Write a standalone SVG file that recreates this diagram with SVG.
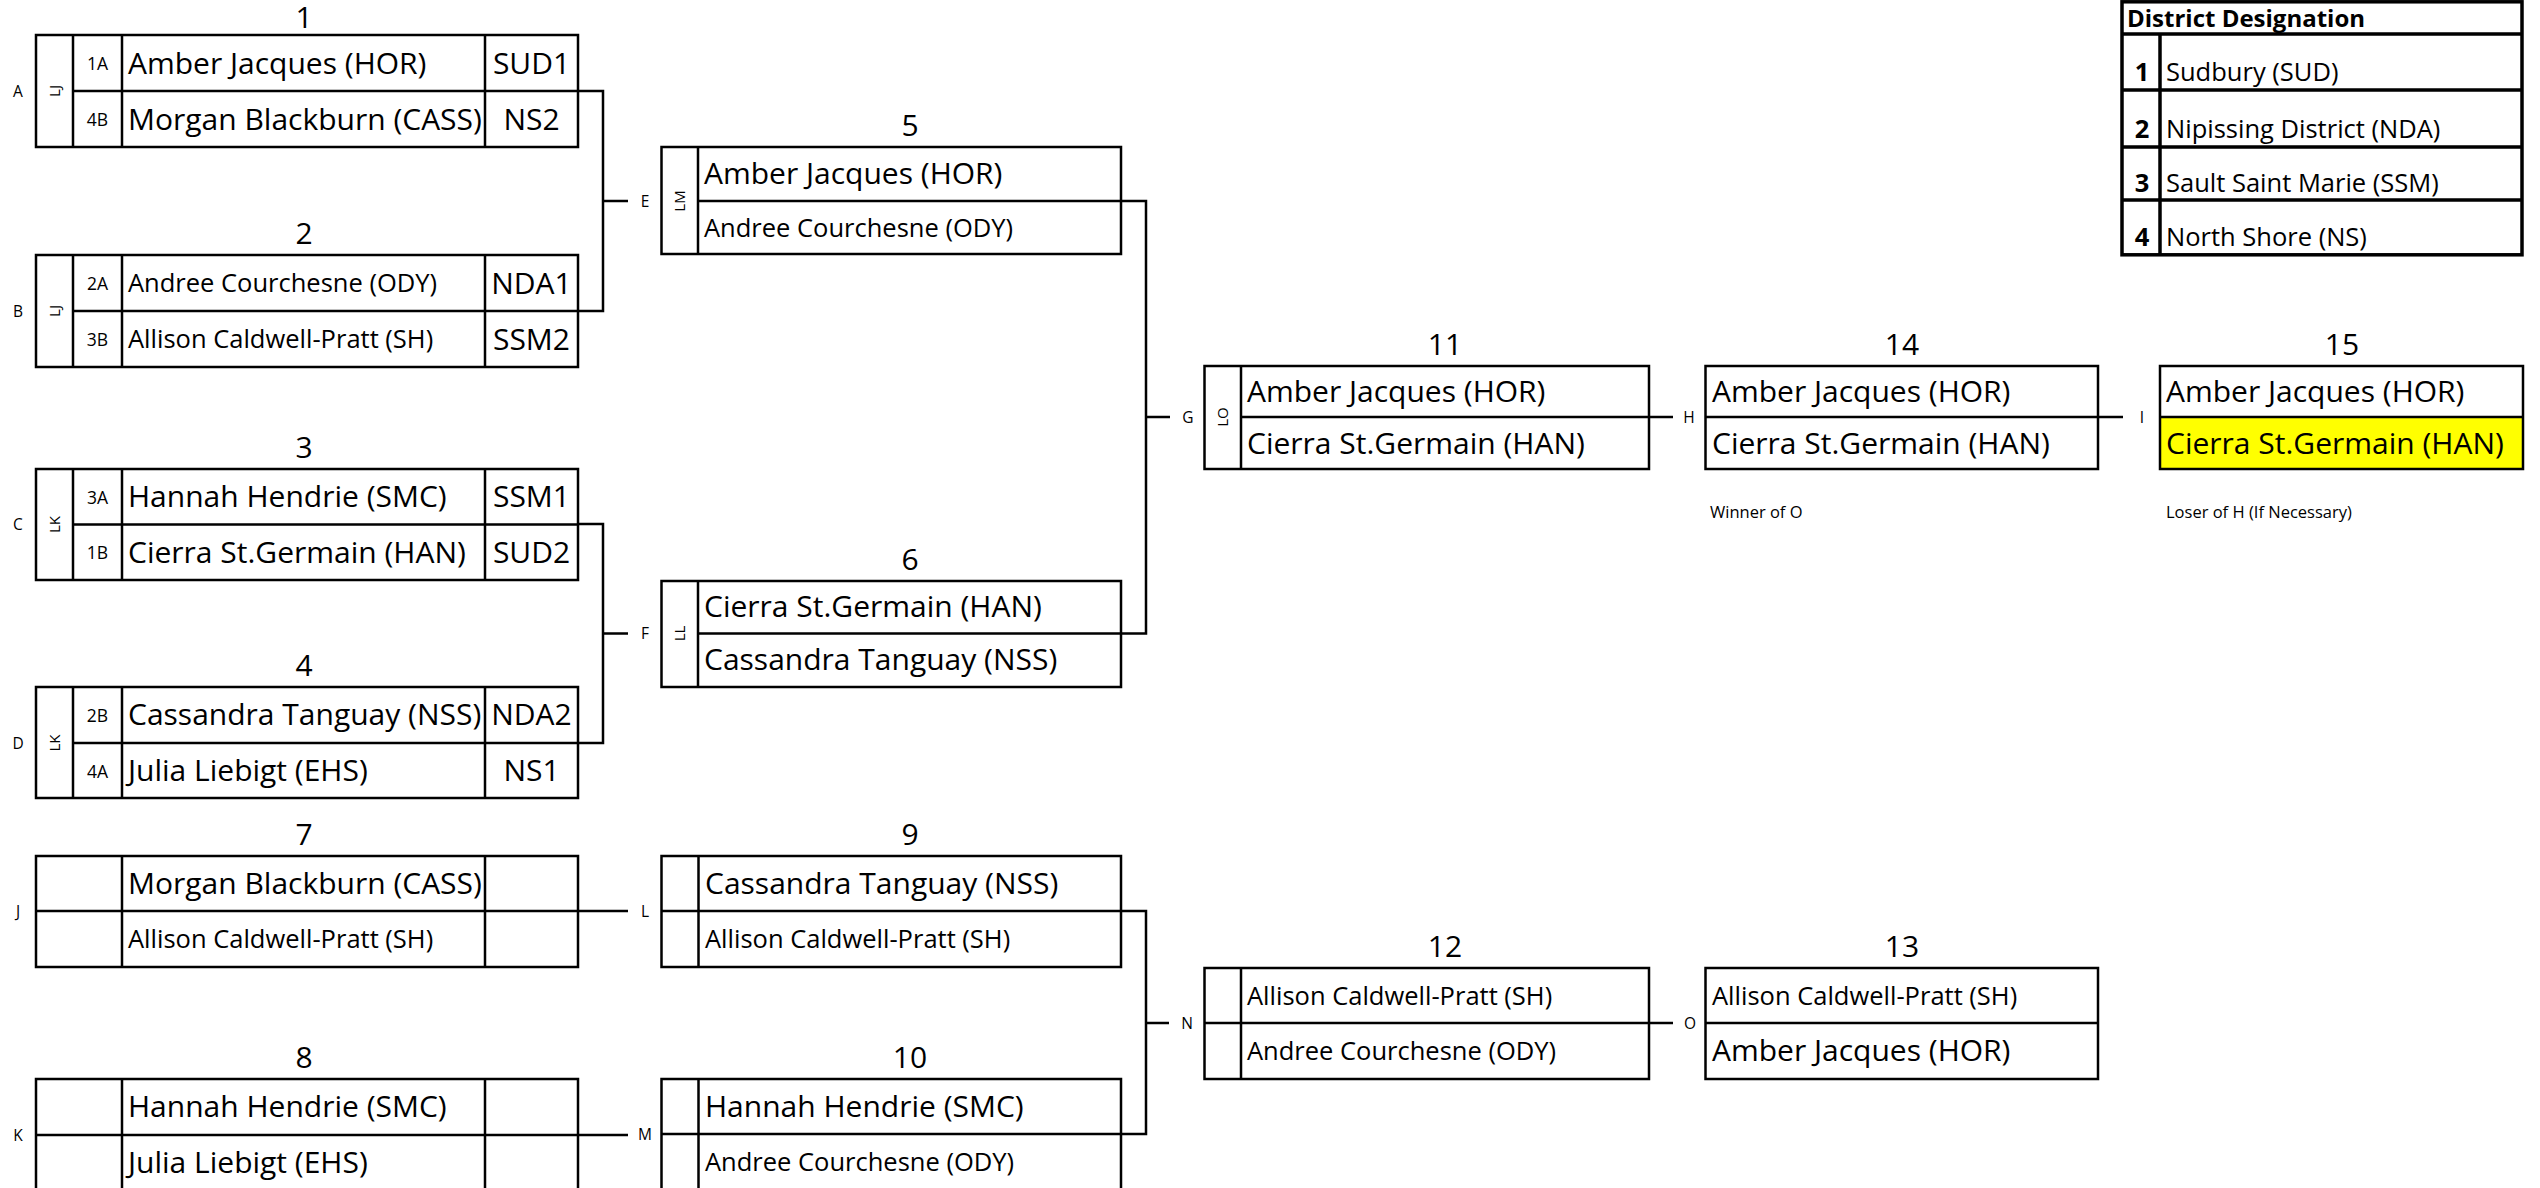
<svg xmlns="http://www.w3.org/2000/svg" width="2540" height="1188" viewBox="0 0 2540 1188">
<style>
text{font-family:"Open Sans","Liberation Sans",sans-serif;fill:#000}
.bx{fill:none;stroke:#000;stroke-width:2.5}
.ln{stroke:#000;stroke-width:2.5;fill:none}
.cn{stroke:#000;stroke-width:2.5;fill:none}
.L{font-size:30px}
.S{font-size:25.5px}
.dc{font-size:30px;text-anchor:middle}
.num{font-size:30px;text-anchor:middle}
.seed{font-size:17.5px;text-anchor:middle}
.tag{font-size:15.5px;text-anchor:middle}
.rot{font-size:15px;text-anchor:middle}
.note{font-size:16.5px}
.lg{font-size:25.5px}
.lgb{font-size:24px;font-weight:bold}
.lgn{font-size:25.5px;font-weight:bold;text-anchor:middle}
.lgl{stroke:#000;stroke-width:3.5;fill:none}
</style>
<rect x="0" y="0" width="2540" height="1188" fill="#fff"/>

<g id="connectors">
<path class="cn" d="M578,91 H603 V311 H578 M603,201 H628"/>
<path class="cn" d="M578,524 H603 V743 H578 M603,633.5 H628"/>
<path class="cn" d="M1121,201 H1146 V633.5 H1121 M1146,417 H1170"/>
<path class="cn" d="M1649,417 H1673"/>
<path class="cn" d="M2098,417 H2123"/>
<path class="cn" d="M578,911 H628"/>
<path class="cn" d="M578,1135 H628"/>
<path class="cn" d="M1121,911 H1146 V1134 H1121 M1146,1023 H1169"/>
<path class="cn" d="M1649,1023 H1673"/>
</g>

<g id="match1">
<text class="num" x="304" y="28">1</text>
<rect class="bx" x="36" y="35" width="542" height="112"/>
<path class="ln" d="M73,35 V147 M122,35 V147 M485,35 V147 M73,91 H578"/>
<text class="tag" x="18" y="96.5">A</text>
<text class="rot" x="54.5" y="96" transform="rotate(-90 54.5 91)">LJ</text>
<text class="seed" x="97.5" y="70">1A</text>
<text class="seed" x="97.5" y="126">4B</text>
<text class="L" x="128" y="73.5">Amber Jacques (HOR)</text>
<text class="L" x="128" y="129.5">Morgan Blackburn (CASS)</text>
<text class="dc" x="531.5" y="73.5">SUD1</text>
<text class="dc" x="531.5" y="129.5">NS2</text>
</g>

<g id="match2">
<text class="num" x="304" y="244">2</text>
<rect class="bx" x="36" y="255" width="542" height="112"/>
<path class="ln" d="M73,255 V367 M122,255 V367 M485,255 V367 M73,311 H578"/>
<text class="tag" x="18" y="316.5">B</text>
<text class="rot" x="54.5" y="316" transform="rotate(-90 54.5 311)">LJ</text>
<text class="seed" x="97.5" y="290">2A</text>
<text class="seed" x="97.5" y="346">3B</text>
<text class="S" x="128" y="292">Andree Courchesne (ODY)</text>
<text class="S" x="128" y="348">Allison Caldwell-Pratt (SH)</text>
<text class="dc" x="531.5" y="293.5">NDA1</text>
<text class="dc" x="531.5" y="349.5">SSM2</text>
</g>

<g id="match3">
<text class="num" x="304" y="458">3</text>
<rect class="bx" x="36" y="469" width="542" height="111"/>
<path class="ln" d="M73,469 V580 M122,469 V580 M485,469 V580 M73,524.5 H578"/>
<text class="tag" x="18" y="530">C</text>
<text class="rot" x="54.5" y="529.5" transform="rotate(-90 54.5 524.5)">LK</text>
<text class="seed" x="97.5" y="504">3A</text>
<text class="seed" x="97.5" y="559">1B</text>
<text class="L" x="128" y="507">Hannah Hendrie (SMC)</text>
<text class="L" x="128" y="562.5">Cierra St.Germain (HAN)</text>
<text class="dc" x="531.5" y="507">SSM1</text>
<text class="dc" x="531.5" y="562.5">SUD2</text>
</g>

<g id="match4">
<text class="num" x="304" y="676">4</text>
<rect class="bx" x="36" y="687" width="542" height="111"/>
<path class="ln" d="M73,687 V798 M122,687 V798 M485,687 V798 M73,743 H578"/>
<text class="tag" x="18" y="748.5">D</text>
<text class="rot" x="54.5" y="748" transform="rotate(-90 54.5 743)">LK</text>
<text class="seed" x="97.5" y="722">2B</text>
<text class="seed" x="97.5" y="777.5">4A</text>
<text class="L" x="128" y="725">Cassandra Tanguay (NSS)</text>
<text class="L" x="128" y="780.5">Julia Liebigt (EHS)</text>
<text class="dc" x="531.5" y="725">NDA2</text>
<text class="dc" x="531.5" y="780.5">NS1</text>
</g>

<g id="match5">
<text class="num" x="910" y="136">5</text>
<rect class="bx" x="661.5" y="147" width="459.5" height="107"/>
<path class="ln" d="M698,147 V254 M698,201 H1121"/>
<text class="tag" x="645" y="206.5">E</text>
<text class="rot" x="680" y="206" transform="rotate(-90 680 201)">LM</text>
<text class="L" x="704" y="184">Amber Jacques (HOR)</text>
<text class="S" x="704" y="236.5">Andree Courchesne (ODY)</text>
</g>

<g id="match6">
<text class="num" x="910" y="570">6</text>
<rect class="bx" x="661.5" y="581" width="459.5" height="106"/>
<path class="ln" d="M698,581 V687 M698,633.5 H1121"/>
<text class="tag" x="645" y="639">F</text>
<text class="rot" x="680" y="638.5" transform="rotate(-90 680 633.5)">LL</text>
<text class="L" x="704" y="617">Cierra St.Germain (HAN)</text>
<text class="L" x="704" y="670">Cassandra Tanguay (NSS)</text>
</g>

<g id="match7">
<text class="num" x="304" y="845">7</text>
<rect class="bx" x="36" y="856" width="542" height="111"/>
<path class="ln" d="M122,856 V967 M485,856 V967 M36,911 H578"/>
<text class="tag" x="18" y="916.5">J</text>
<text class="L" x="128" y="893.5">Morgan Blackburn (CASS)</text>
<text class="S" x="128" y="948">Allison Caldwell-Pratt (SH)</text>
</g>

<g id="match8">
<text class="num" x="304" y="1068">8</text>
<rect class="bx" x="36" y="1079" width="542" height="115"/>
<path class="ln" d="M122,1079 V1194 M485,1079 V1194 M36,1135 H578"/>
<text class="tag" x="18" y="1140.5">K</text>
<text class="L" x="128" y="1117">Hannah Hendrie (SMC)</text>
<text class="L" x="128" y="1173">Julia Liebigt (EHS)</text>
</g>

<g id="match9">
<text class="num" x="910" y="845">9</text>
<rect class="bx" x="661.5" y="856" width="459.5" height="111"/>
<path class="ln" d="M698.5,856 V967 M661.5,911 H1121"/>
<text class="tag" x="645" y="916.5">L</text>
<text class="L" x="705" y="893.5">Cassandra Tanguay (NSS)</text>
<text class="S" x="705" y="948">Allison Caldwell-Pratt (SH)</text>
</g>

<g id="match10">
<text class="num" x="910" y="1068">10</text>
<rect class="bx" x="661.5" y="1079" width="459.5" height="115"/>
<path class="ln" d="M698.5,1079 V1194 M661.5,1134 H1121"/>
<text class="tag" x="645" y="1140">M</text>
<text class="L" x="705" y="1116.5">Hannah Hendrie (SMC)</text>
<text class="S" x="705" y="1171">Andree Courchesne (ODY)</text>
</g>

<g id="match11">
<text class="num" x="1445" y="355">11</text>
<rect class="bx" x="1204.5" y="366" width="444.5" height="103"/>
<path class="ln" d="M1241,366 V469 M1241,417 H1649"/>
<text class="tag" x="1188" y="422.5">G</text>
<text class="rot" x="1223" y="422" transform="rotate(-90 1223 417)">LO</text>
<text class="L" x="1247" y="402">Amber Jacques (HOR)</text>
<text class="L" x="1247" y="453.5">Cierra St.Germain (HAN)</text>
</g>

<g id="match12">
<text class="num" x="1445" y="957">12</text>
<rect class="bx" x="1204.5" y="968" width="444.5" height="111"/>
<path class="ln" d="M1241,968 V1079 M1204.5,1023 H1649"/>
<text class="tag" x="1187" y="1028.5">N</text>
<text class="S" x="1247" y="1004.5">Allison Caldwell-Pratt (SH)</text>
<text class="S" x="1247" y="1060">Andree Courchesne (ODY)</text>
</g>

<g id="match13">
<text class="num" x="1902" y="957">13</text>
<rect class="bx" x="1705.5" y="968" width="392.5" height="111"/>
<path class="ln" d="M1705.5,1023 H2098"/>
<text class="tag" x="1690" y="1028.5">O</text>
<text class="S" x="1712" y="1004.5">Allison Caldwell-Pratt (SH)</text>
<text class="L" x="1712" y="1061">Amber Jacques (HOR)</text>
</g>

<g id="match14">
<text class="num" x="1902" y="355">14</text>
<rect class="bx" x="1705.5" y="366" width="392.5" height="103"/>
<path class="ln" d="M1705.5,417 H2098"/>
<text class="tag" x="1689" y="422.5">H</text>
<text class="L" x="1712" y="402">Amber Jacques (HOR)</text>
<text class="L" x="1712" y="453.5">Cierra St.Germain (HAN)</text>
<text class="note" x="1710" y="518">Winner of O</text>
</g>

<g id="match15">
<text class="num" x="2342" y="355">15</text>
<rect x="2160" y="417" width="363" height="52" fill="#ffff00"/>
<rect class="bx" x="2160" y="366" width="363" height="103"/>
<path class="ln" d="M2160,417 H2523"/>
<text class="tag" x="2142" y="422.5">I</text>
<text class="L" x="2166" y="402">Amber Jacques (HOR)</text>
<text class="L" x="2166" y="453.5">Cierra St.Germain (HAN)</text>
<text class="note" x="2166" y="518">Loser of H (If Necessary)</text>
</g>

<g id="legend">
<rect class="lgl" x="2122" y="1.8" width="400" height="253"/>
<path class="lgl" d="M2122,34 H2522 M2122,90 H2522 M2122,147 H2522 M2122,200 H2522"/>
<path class="lgl" d="M2160,34 V255"/>
<text class="lgb" x="2127" y="27">District Designation</text>
<text class="lgn" x="2142" y="81">1</text>
<text class="lgn" x="2142" y="138">2</text>
<text class="lgn" x="2142" y="192">3</text>
<text class="lgn" x="2142" y="246">4</text>
<text class="lg" x="2166" y="81">Sudbury (SUD)</text>
<text class="lg" x="2166" y="138">Nipissing District (NDA)</text>
<text class="lg" x="2166" y="192">Sault Saint Marie (SSM)</text>
<text class="lg" x="2166" y="246">North Shore (NS)</text>
</g>
</svg>
